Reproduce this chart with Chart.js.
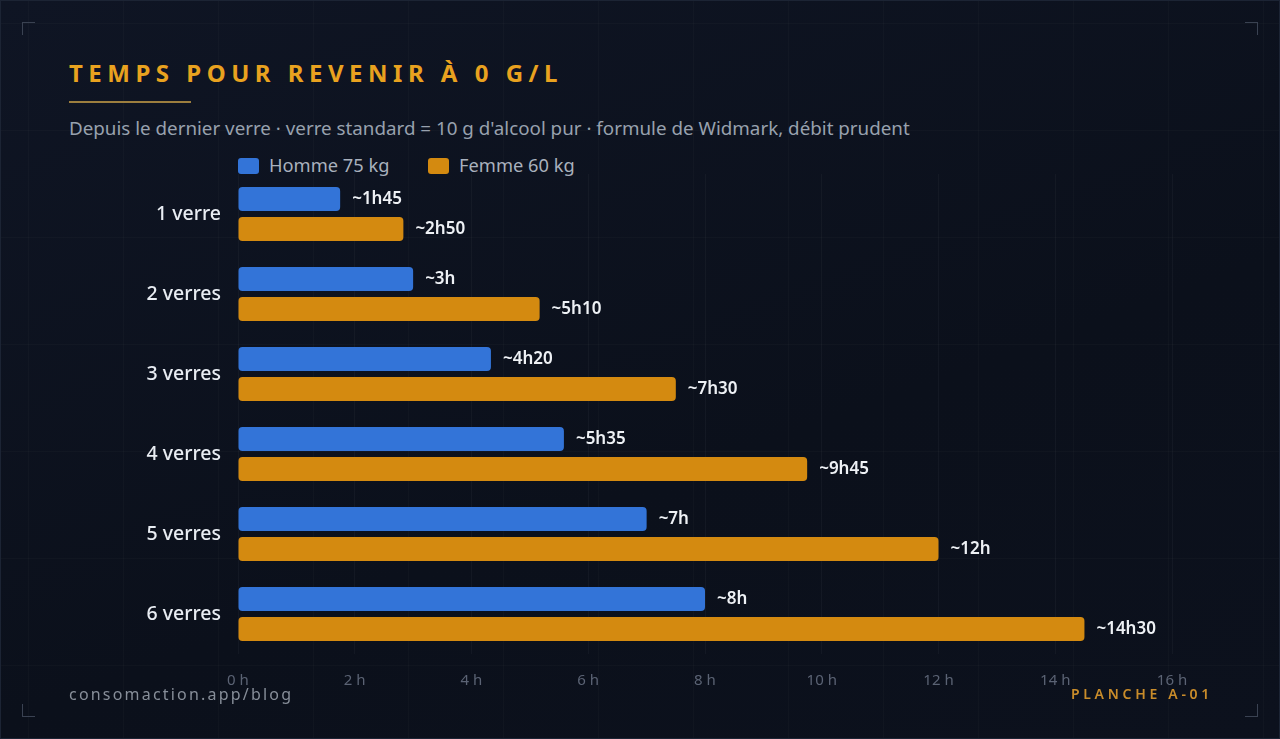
<!DOCTYPE html>
<html lang="fr">
<head>
<meta charset="utf-8">
<title>Temps pour revenir à 0 g/L</title>
<script src="https://cdn.jsdelivr.net/npm/chart.js@4.4.1/dist/chart.umd.min.js"></script>
<style>
  html, body { margin: 0; padding: 0; }
  body {
    width: 1280px; height: 739px; overflow: hidden;
    background: #0c111c;
    font-family: "Noto Sans", "Open Sans", sans-serif;
  }
  #panel {
    position: relative; width: 1280px; height: 739px;
    box-shadow: inset 0 0 0 1px #1c2434;
    background:
      linear-gradient(rgba(255,255,255,0.018) 1px, transparent 1px) 0 23px / 100% 107px,
      linear-gradient(90deg, rgba(255,255,255,0.018) 1px, transparent 1px) 28px 0 / 95px 100%,
      linear-gradient(160deg, #0f1524 0%, #0b101b 60%, #0c111d 100%);
  }
  .corner { position: absolute; width: 12px; height: 12px; border-color: #3a4252; border-style: solid; border-width: 0; }
  .tl { left: 22px; top: 22px; border-left-width: 1px; border-top-width: 1px; }
  .tr { right: 22px; top: 22px; border-right-width: 1px; border-top-width: 1px; }
  .bl { left: 22px; bottom: 22px; border-left-width: 1px; border-bottom-width: 1px; }
  .br { right: 22px; bottom: 22px; border-right-width: 1px; border-bottom-width: 1px; }
  h1 {
    position: absolute; left: 69px; top: 56px; margin: 0;
    font-size: 24px; font-weight: 700; letter-spacing: 5.5px;
    color: #e9a21f; white-space: nowrap;
  }
  .rule { position: absolute; left: 69px; top: 101px; width: 122px; height: 2px; background: #9c7e3e; }
  .sub {
    position: absolute; left: 69px; top: 115px;
    font-size: 18.8px; color: #98a1ae; white-space: nowrap;
  }
  .legend { position: absolute; top: 152px; font-size: 18.3px; color: #a9b1bd; white-space: nowrap; }
  .legend span.box { display: inline-block; width: 21px; height: 16px; border-radius: 3px; vertical-align: -2px; margin-right: 10px; }
  .foot-l {
    position: absolute; left: 69px; top: 683px;
    font-size: 16px; letter-spacing: 2.2px; color: #878e99;
  }
  .foot-r {
    position: absolute; right: 67px; top: 684px;
    font-size: 14px; letter-spacing: 3.7px; color: #c98c2a; font-weight: 600;
  }
  canvas { position: absolute; left: 0; top: 0; }
</style>
</head>
<body>
<div id="panel">
  <div class="corner tl"></div><div class="corner tr"></div>
  <div class="corner bl"></div><div class="corner br"></div>
  <h1>TEMPS POUR REVENIR À 0 G/L</h1>
  <div class="rule"></div>
  <div class="sub">Depuis le dernier verre · verre standard = 10 g d'alcool pur · formule de Widmark, débit prudent</div>
  <div id="legend"></div>
  <canvas id="chart" width="1280" height="739"></canvas>
  <div class="foot-l">consomaction.app/blog</div>
  <div class="foot-r">PLANCHE A-01</div>
</div>
<script>
// categories and values (hours)
const categories = ['1 verre', '2 verres', '3 verres', '4 verres', '5 verres', '6 verres'];
const seriesNames = ['Homme 75 kg', 'Femme 60 kg'];
const hommeHours = [1.75, 3, 4.333, 5.583, 7, 8];
const femmeHours = [2.833, 5.167, 7.5, 9.75, 12, 14.5];
const hommeLabels = ['~1h45', '~3h', '~4h20', '~5h35', '~7h', '~8h'];
const femmeLabels = ['~2h50', '~5h10', '~7h30', '~9h45', '~12h', '~14h30'];
const tickValues = [0, 2, 4, 6, 8, 10, 12, 14, 16];
const colors = ['#3374d8', '#d48a10'];

// html legend
const legend = document.getElementById('legend');
const legendX = [238, 428];
seriesNames.forEach((name, i) => {
    const item = document.createElement('div');
    item.className = 'legend';
    item.style.left = legendX[i] + 'px';
    item.innerHTML = `<span class="box" style="background:${colors[i]}"></span>${name}`;
    legend.appendChild(item);
});

// value labels at the end of each bar
const endLabels = {
    id: 'endLabels',
    afterDatasetsDraw(chart) {
        const ctx = chart.ctx;
        ctx.save();
        ctx.font = '600 17px "Noto Sans", sans-serif';
        ctx.fillStyle = '#eef1f5';
        ctx.textBaseline = 'middle';
        ctx.textAlign = 'left';
        chart.data.datasets.forEach((ds, di) => {
            chart.getDatasetMeta(di).data.forEach((bar, i) => {
                ctx.fillText(ds.endText[i], bar.x + 12, bar.y);
            });
        });
        ctx.restore();
    }
};

const ctx = document.getElementById('chart').getContext('2d');
new Chart(ctx, {
    type: 'bar',
    data: {
        labels: categories,
        datasets: [
            {
                label: seriesNames[0],
                data: hommeHours,
                endText: hommeLabels,
                backgroundColor: colors[0],
                borderRadius: 4,
                borderSkipped: false,
                categoryPercentage: 0.75,
                barPercentage: 0.8
            },
            {
                label: seriesNames[1],
                data: femmeHours,
                endText: femmeLabels,
                backgroundColor: colors[1],
                borderRadius: 4,
                borderSkipped: false,
                categoryPercentage: 0.75,
                barPercentage: 0.8
            }
        ]
    },
    options: {
        indexAxis: 'y',
        responsive: false,
        animation: false,
        layout: { padding: { left: 0, top: 174, right: 108, bottom: 39 } },
        plugins: {
            legend: { display: false },
            tooltip: { enabled: false }
        },
        scales: {
            x: {
                min: 0,
                max: 16,
                afterFit: (scale) => { scale.height = 46; },
                afterBuildTicks: (scale) => { scale.ticks = tickValues.map(v => ({ value: v })); },
                grid: { color: 'rgba(255,255,255,0.035)', drawTicks: false },
                border: { display: false },
                ticks: {
                    padding: 18,
                    color: '#5b6374',
                    font: { family: 'Noto Sans', size: 15 },
                    callback: (v) => v + ' h'
                }
            },
            y: {
                afterFit: (scale) => { scale.width = 238; },
                grid: { display: false, drawTicks: false },
                border: { display: false },
                ticks: {
                    padding: 17,
                    color: '#e9edf3',
                    font: { family: 'Noto Sans', size: 19.5, weight: '500' }
                }
            }
        }
    },
    plugins: [endLabels]
});
</script>
</body>
</html>
